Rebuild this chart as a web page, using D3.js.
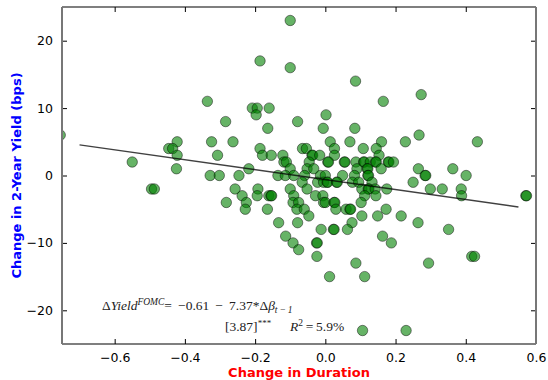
<!DOCTYPE html>
<html>
<head>
<meta charset="utf-8">
<script src="https://d3js.org/d3.v7.min.js"></script>
<style>
body { margin: 0; background: #fff; }
</style>
</head>
<body>
<svg id="chart" width="548" height="380"></svg>
<script>
// change in duration (x) and change in 2-year yield in bps (y)
var duration = [
	-0.10,
	-0.186,
	-0.10,
	0.086,
	0.273,
	-0.336, 0.165,
	-0.208, -0.194, -0.16,
	-0.197, 0.002,
	-0.284, -0.079,
	-0.164, -0.006, 0.084,
	-0.755, 0.267,
	-0.422, -0.324, -0.263, 0.014, 0.07, 0.16, 0.228, 0.433,
	-0.446, -0.435, -0.186, -0.065, -0.054, 0.026, 0.108, 0.145,
	-0.422, -0.307, -0.179, -0.154, -0.121, -0.038, -0.036, -0.016, 0.026, 0.153,
	-0.55, -0.118, -0.111, -0.046, 0.007, 0.009, 0.054, 0.056, 0.087, 0.109, 0.111, 0.128, 0.143, 0.145, 0.179, 0.181, 0.194,
	-0.424, -0.218, -0.10, -0.052, -0.033, 0.09, 0.119, 0.121, 0.159, 0.265, 0.363,
	-0.328, -0.302, -0.246, -0.135, -0.114, -0.09, -0.059, -0.014, 0.0, 0.049, 0.083, 0.121, 0.123, 0.284, 0.286, 0.401,
	-0.066, -0.022, -0.005, 0.005, 0.007, 0.032, 0.034, 0.077, 0.095, 0.133, 0.25,
	-0.495, -0.487, -0.257, -0.192, -0.10, -0.052, 0.104, 0.122, 0.124, 0.142, 0.175, 0.299, 0.333, 0.387,
	-0.237, -0.194, -0.161, -0.155, -0.153, -0.09, -0.028, -0.007, 0.112, 0.144, 0.388, 0.571, 0.573,
	-0.282, -0.225, -0.092, -0.076, -0.005, 0.0, 0.025, 0.027, 0.102,
	-0.228, -0.165, -0.081, -0.06, 0.03, 0.059, 0.07, 0.072, 0.173,
	-0.047, 0.104, 0.149, 0.216,
	-0.133, -0.079, 0.076, 0.264,
	-0.012, 0.023, 0.025, 0.063, 0.351,
	-0.113, 0.163,
	-0.092, -0.025, -0.023, 0.188,
	-0.076,
	-0.024, 0.417, 0.425,
	0.087, 0.294,
	0.012, 0.112,
	0.106, 0.23
];
var yieldChange = [
	23,
	17,
	16,
	14,
	12,
	11, 11,
	10, 10, 10,
	9, 9,
	8, 8,
	7, 7, 7,
	6, 6,
	5, 5, 5, 5, 5, 5, 5, 5,
	4, 4, 4, 4, 4, 4, 4, 4,
	3, 3, 3, 3, 3, 3, 3, 3, 3, 3,
	2, 2, 2, 2, 2, 2, 2, 2, 2, 2, 2, 2, 2, 2, 2, 2, 2,
	1, 1, 1, 1, 1, 1, 1, 1, 1, 1, 1,
	0, 0, 0, 0, 0, 0, 0, 0, 0, 0, 0, 0, 0, 0, 0, 0,
	-1, -1, -1, -1, -1, -1, -1, -1, -1, -1, -1,
	-2, -2, -2, -2, -2, -2, -2, -2, -2, -2, -2, -2, -2, -2,
	-3, -3, -3, -3, -3, -3, -3, -3, -3, -3, -3, -3, -3,
	-4, -4, -4, -4, -4, -4, -4, -4, -4,
	-5, -5, -5, -5, -5, -5, -5, -5, -5,
	-6, -6, -6, -6,
	-7, -7, -7, -7,
	-8, -8, -8, -8, -8,
	-9, -9,
	-10, -10, -10, -10,
	-11,
	-12, -12, -12,
	-13, -13,
	-15, -15,
	-23, -23
];

var xTicks = [-0.6, -0.4, -0.2, 0.0, 0.2, 0.4, 0.6];
var yTicks = [-20, -10, 0, 10, 20];

// fitted line: intercept, slope and the x range it covers
var fitIntercept = -0.61;
var fitSlope = -7.37;
var fitRange = [-0.7, 0.55];

var svg = d3.select("#chart");
var plotLeft = 62, plotRight = 536, plotTop = 7, plotBottom = 344;

var x = d3.scaleLinear().domain([-0.75, 0.6]).range([plotLeft, plotRight]);
var y = d3.scaleLinear().domain([-25, 25]).range([plotBottom, plotTop]);

var fmt = function(d) { return d3.format(".1f")(d).replace("-", "\u2212"); };
var fmtY = function(d) { return String(d).replace("-", "\u2212"); };

svg.append("clipPath").attr("id", "plotclip")
	.append("rect")
	.attr("x", plotLeft).attr("y", plotTop)
	.attr("width", plotRight - plotLeft).attr("height", plotBottom - plotTop);

var pts = d3.range(duration.length).map(function(i) { return [duration[i], yieldChange[i]]; });

svg.append("g")
	.attr("clip-path", "url(#plotclip)")
	.selectAll("circle")
	.data(pts)
	.enter().append("circle")
	.attr("cx", function(d) { return x(d[0]); })
	.attr("cy", function(d) { return y(d[1]); })
	.attr("r", 5.2)
	.attr("fill", "#008000")
	.attr("fill-opacity", 0.6)
	.attr("stroke", "#000")
	.attr("stroke-opacity", 0.45)
	.attr("stroke-width", 1);

svg.append("line")
	.attr("x1", x(fitRange[0]))
	.attr("y1", y(fitIntercept + fitSlope * fitRange[0]))
	.attr("x2", x(fitRange[1]))
	.attr("y2", y(fitIntercept + fitSlope * fitRange[1]))
	.attr("stroke", "#000")
	.attr("stroke-opacity", 0.75)
	.attr("stroke-width", 1.4);

// axes, ticks pointing inward on all four sides
svg.append("g")
	.attr("transform", "translate(0," + plotBottom + ")")
	.call(d3.axisBottom(x).tickValues(xTicks).tickFormat(fmt).tickSizeInner(-5).tickSizeOuter(0).tickPadding(9))
	.call(function(g) { g.select(".domain").remove(); });
svg.append("g")
	.attr("transform", "translate(0," + plotTop + ")")
	.call(d3.axisTop(x).tickValues(xTicks).tickFormat("").tickSizeInner(-5).tickSizeOuter(0))
	.call(function(g) { g.select(".domain").remove(); });
svg.append("g")
	.attr("transform", "translate(" + plotLeft + ",0)")
	.call(d3.axisLeft(y).tickValues(yTicks).tickFormat(fmtY).tickSizeInner(-5).tickSizeOuter(0).tickPadding(9))
	.call(function(g) { g.select(".domain").remove(); });
svg.append("g")
	.attr("transform", "translate(" + plotRight + ",0)")
	.call(d3.axisRight(y).tickValues(yTicks).tickFormat("").tickSizeInner(-5).tickSizeOuter(0))
	.call(function(g) { g.select(".domain").remove(); });

svg.selectAll(".tick text")
	.attr("font-family", "'DejaVu Sans', sans-serif")
	.attr("font-size", 12.5)
	.attr("fill", "#000");
svg.selectAll(".tick line").attr("stroke", "#000");

// frame
svg.append("line").attr("x1", plotLeft).attr("x2", plotRight).attr("y1", plotTop).attr("y2", plotTop)
	.attr("stroke", "#000").attr("stroke-width", 1.2);
svg.append("line").attr("x1", plotLeft).attr("x2", plotRight).attr("y1", plotBottom).attr("y2", plotBottom)
	.attr("stroke", "#000").attr("stroke-width", 1.2);
svg.append("line").attr("x1", plotLeft).attr("x2", plotLeft).attr("y1", plotTop).attr("y2", plotBottom)
	.attr("stroke", "#777").attr("stroke-width", 2);
svg.append("line").attr("x1", plotRight).attr("x2", plotRight).attr("y1", plotTop).attr("y2", plotBottom)
	.attr("stroke", "#777").attr("stroke-width", 2);

// axis labels
svg.append("text")
	.attr("x", (plotLeft + plotRight) / 2)
	.attr("y", 377)
	.attr("text-anchor", "middle")
	.attr("font-family", "'DejaVu Sans', sans-serif")
	.attr("font-weight", "bold")
	.attr("font-size", 13)
	.attr("fill", "#ff0000")
	.text("Change in Duration");

svg.append("text")
	.attr("transform", "translate(21," + (plotTop + plotBottom) / 2 + ") rotate(-90)")
	.attr("text-anchor", "middle")
	.attr("font-family", "'DejaVu Sans', sans-serif")
	.attr("font-weight", "bold")
	.attr("font-size", 13)
	.attr("fill", "#0000ff")
	.text("Change in 2-Year Yield (bps)");

// regression annotation
var eq = svg.append("text")
	.attr("x", 102)
	.attr("y", 310)
	.attr("font-family", "'Liberation Serif', serif")
	.attr("font-size", 13.5)
	.attr("fill", "#222");
eq.append("tspan").text("\u0394");
eq.append("tspan").attr("font-style", "italic").text("Yield");
eq.append("tspan").attr("font-style", "italic").attr("font-size", 9.5).attr("dy", -5).text("FOMC");
eq.append("tspan").attr("dy", 5).text("=\u2009 \u22120.61 \u2009\u2212\u2009 7.37*\u0394");
eq.append("tspan").attr("font-style", "italic").text("\u03b2");
eq.append("tspan").attr("font-style", "italic").attr("font-size", 9.5).attr("dy", 3).text("t\u2009\u2212\u20091");

var se = svg.append("text")
	.attr("x", 225)
	.attr("y", 331)
	.attr("font-family", "'Liberation Serif', serif")
	.attr("font-size", 13.5)
	.attr("fill", "#222");
se.append("tspan").text("[3.87]");
se.append("tspan").attr("font-size", 9).attr("dy", -5).text("***");

var r2 = svg.append("text")
	.attr("x", 290)
	.attr("y", 331)
	.attr("font-family", "'Liberation Serif', serif")
	.attr("font-size", 13.5)
	.attr("fill", "#222");
r2.append("tspan").attr("font-style", "italic").text("R");
r2.append("tspan").attr("font-size", 9.5).attr("dy", -5).text("2");
r2.append("tspan").attr("dy", 5).text("\u2009=\u20095.9%");
</script>
</body>
</html>
